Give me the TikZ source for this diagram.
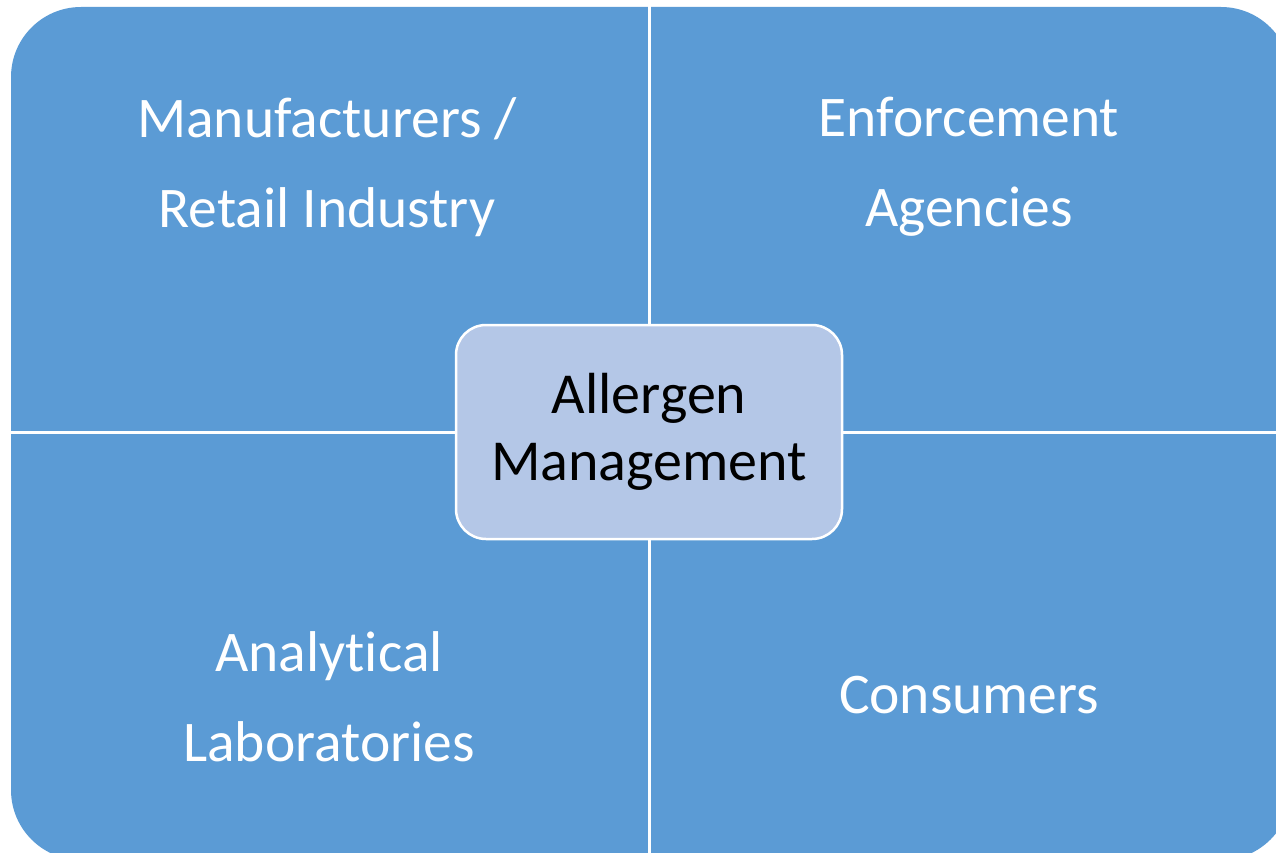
\documentclass[tikz,border=0pt]{standalone}
\usepackage{fontspec}
\setmainfont[RawFeature={-liga;-clig;-dlig}]{Carlito}
\definecolor{quadblue}{HTML}{5B9BD5}
\definecolor{hubblue}{HTML}{B4C7E7}
\begin{document}
\begin{tikzpicture}[x=1pt,y=-1pt,
  quadtext/.style={text=white,align=center,inner sep=0pt,
    font=\fontsize{57.5}{90}\selectfont},
  hubbox/.style={draw=white,line width=2.5pt,fill=hubblue,
    rounded corners=30pt,minimum width=386pt,minimum height=214pt,
    align=center,inner sep=0pt,text=black,
    font=\fontsize{58}{67}\selectfont},
  gap/.style={white,line width=3pt}]
\useasboundingbox (0,0) rectangle (1276,853);
% four quadrants: one rounded panel split by two white gaps
\coordinate (gapN) at (649.5,-5);
\coordinate (gapS) at (649.5,870);
\coordinate (gapW) at (-5,432.5);
\coordinate (gapE) at (1300,432.5);
\begin{scope}
  \clip (0,0) rectangle (1276,853);
  \fill[quadblue,rounded corners=70pt] (11,7) rectangle (1291,860);
  \draw[gap] (gapN) -- (gapS);
  \draw[gap] (gapW) -- (gapE);
\end{scope}
% quadrant labels
\node[quadtext] (manu) at (327,167) {Manufacturers /\\Retail Industry};
\node[quadtext] (enf)  at (969,167) {Enforcement\\Agencies};
\node[quadtext] (lab)  at (329,697) {Analytical\\Laboratories};
\node[quadtext] (cons) at (969,695) {Consumers};
% central hub
\node[hubbox] (hub) at (649,432) {Allergen\\Management};
\end{tikzpicture}
\end{document}
